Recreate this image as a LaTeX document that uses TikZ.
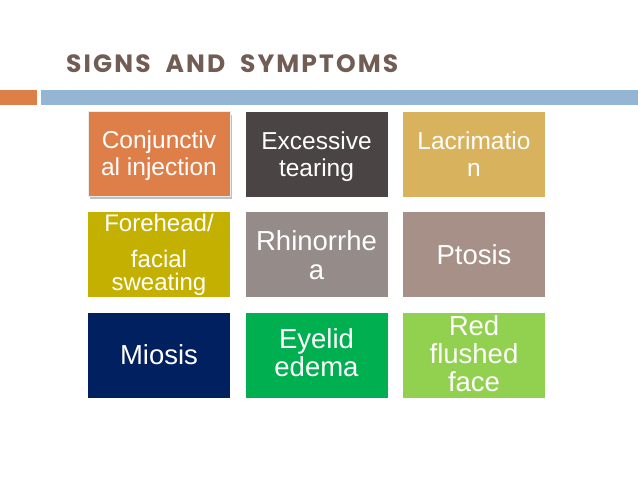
\documentclass[tikz,border=0pt]{standalone}
\usepackage{fontspec}
\setmainfont{Liberation Sans}
\newfontfamily\titlefont[LetterSpace=8.5]{Poppins}
\definecolor{titlec}{RGB}{114,93,85}
\definecolor{barorange}{RGB}{221,128,71}
\definecolor{barblue}{RGB}{148,182,210}
\definecolor{cconj}{RGB}{222,127,74}
\definecolor{cexc}{RGB}{74,68,68}
\definecolor{clac}{RGB}{216,178,92}
\definecolor{cfore}{RGB}{196,176,0}
\definecolor{crhin}{RGB}{149,139,136}
\definecolor{cptos}{RGB}{166,144,135}
\definecolor{cmios}{RGB}{0,32,96}
\definecolor{ceye}{RGB}{0,176,80}
\definecolor{cred}{RGB}{146,208,80}
\tikzset{
  symbox/.style={rectangle, inner sep=0pt, minimum width=142pt, minimum height=85pt},
  txtsmall/.style={anchor=base, inner sep=0pt, text=white, font=\fontsize{24.5}{28}\selectfont},
  txtbig/.style={anchor=base, inner sep=0pt, text=white, font=\fontsize{27.5}{30}\selectfont},
  txtfore/.style={anchor=base, inner sep=0pt, text=white, font=\fontsize{24}{28}\selectfont},
}
\begin{document}
\begin{tikzpicture}[x=1pt,y=-1pt]
\useasboundingbox (0,0) rectangle (638,479);
\fill[white] (0,0) rectangle (638,479);
% title
\node[anchor=base west, inner sep=0pt, text=titlec, font=\titlefont\bfseries\fontsize{25}{28}\selectfont] (title) at (66,72) {SIGNS\ \ AND\ \ SYMPTOMS};
% bars
\fill[barorange] (0,89.5) rectangle (36.7,105);
\fill[barblue] (41,89.5) rectangle (638,105);
% boxes
\fill[black!25] (90,115) rectangle (232,199);
\node[symbox, fill=cconj, draw=black!8, line width=1pt] (b1) at (159,154) {};
\node[symbox, fill=cexc] (b2) at (316.5,154) {};
\node[symbox, fill=clac] (b3) at (474,154) {};
\node[symbox, fill=cfore] (b4) at (159,254.5) {};
\node[symbox, fill=crhin] (b5) at (316.5,254.5) {};
\node[symbox, fill=cptos] (b6) at (474,254.5) {};
\node[symbox, fill=cmios] (b7) at (159,355) {};
\node[symbox, fill=ceye] (b8) at (316.5,355) {};
\node[symbox, fill=cred] (b9) at (474,355) {};
% texts
\node[txtsmall] (t1a) at (159,148.3) {Conjunctiv};
\node[txtsmall] (t1b) at (159,175.8) {al injection};
\node[txtsmall] (t2a) at (316.5,149.3) {Excessive};
\node[txtsmall] (t2b) at (316.5,176.7) {tearing};
\node[txtsmall] (t3a) at (474,149.3) {Lacrimatio};
\node[txtsmall] (t3b) at (474,176.7) {n};
\node[txtfore] (t4a) at (159,231.7) {Forehead/};
\node[txtfore] (t4b) at (159,267.7) {facial};
\node[txtfore] (t4c) at (159,290.5) {sweating};
\node[txtbig] (t5a) at (316.5,250) {Rhinorrhe};
\node[txtbig] (t5b) at (316.5,279) {a};
\node[txtbig] (t6) at (474,264.3) {Ptosis};
\node[txtbig] (t7) at (159,364) {Miosis};
\node[txtbig] (t8a) at (316.5,348.3) {Eyelid};
\node[txtbig] (t8b) at (316.5,376.7) {edema};
\node[txtbig] (t9a) at (474,335) {Red};
\node[txtbig] (t9b) at (474,363) {flushed};
\node[txtbig] (t9c) at (474,391) {face};
\end{tikzpicture}
\end{document}
